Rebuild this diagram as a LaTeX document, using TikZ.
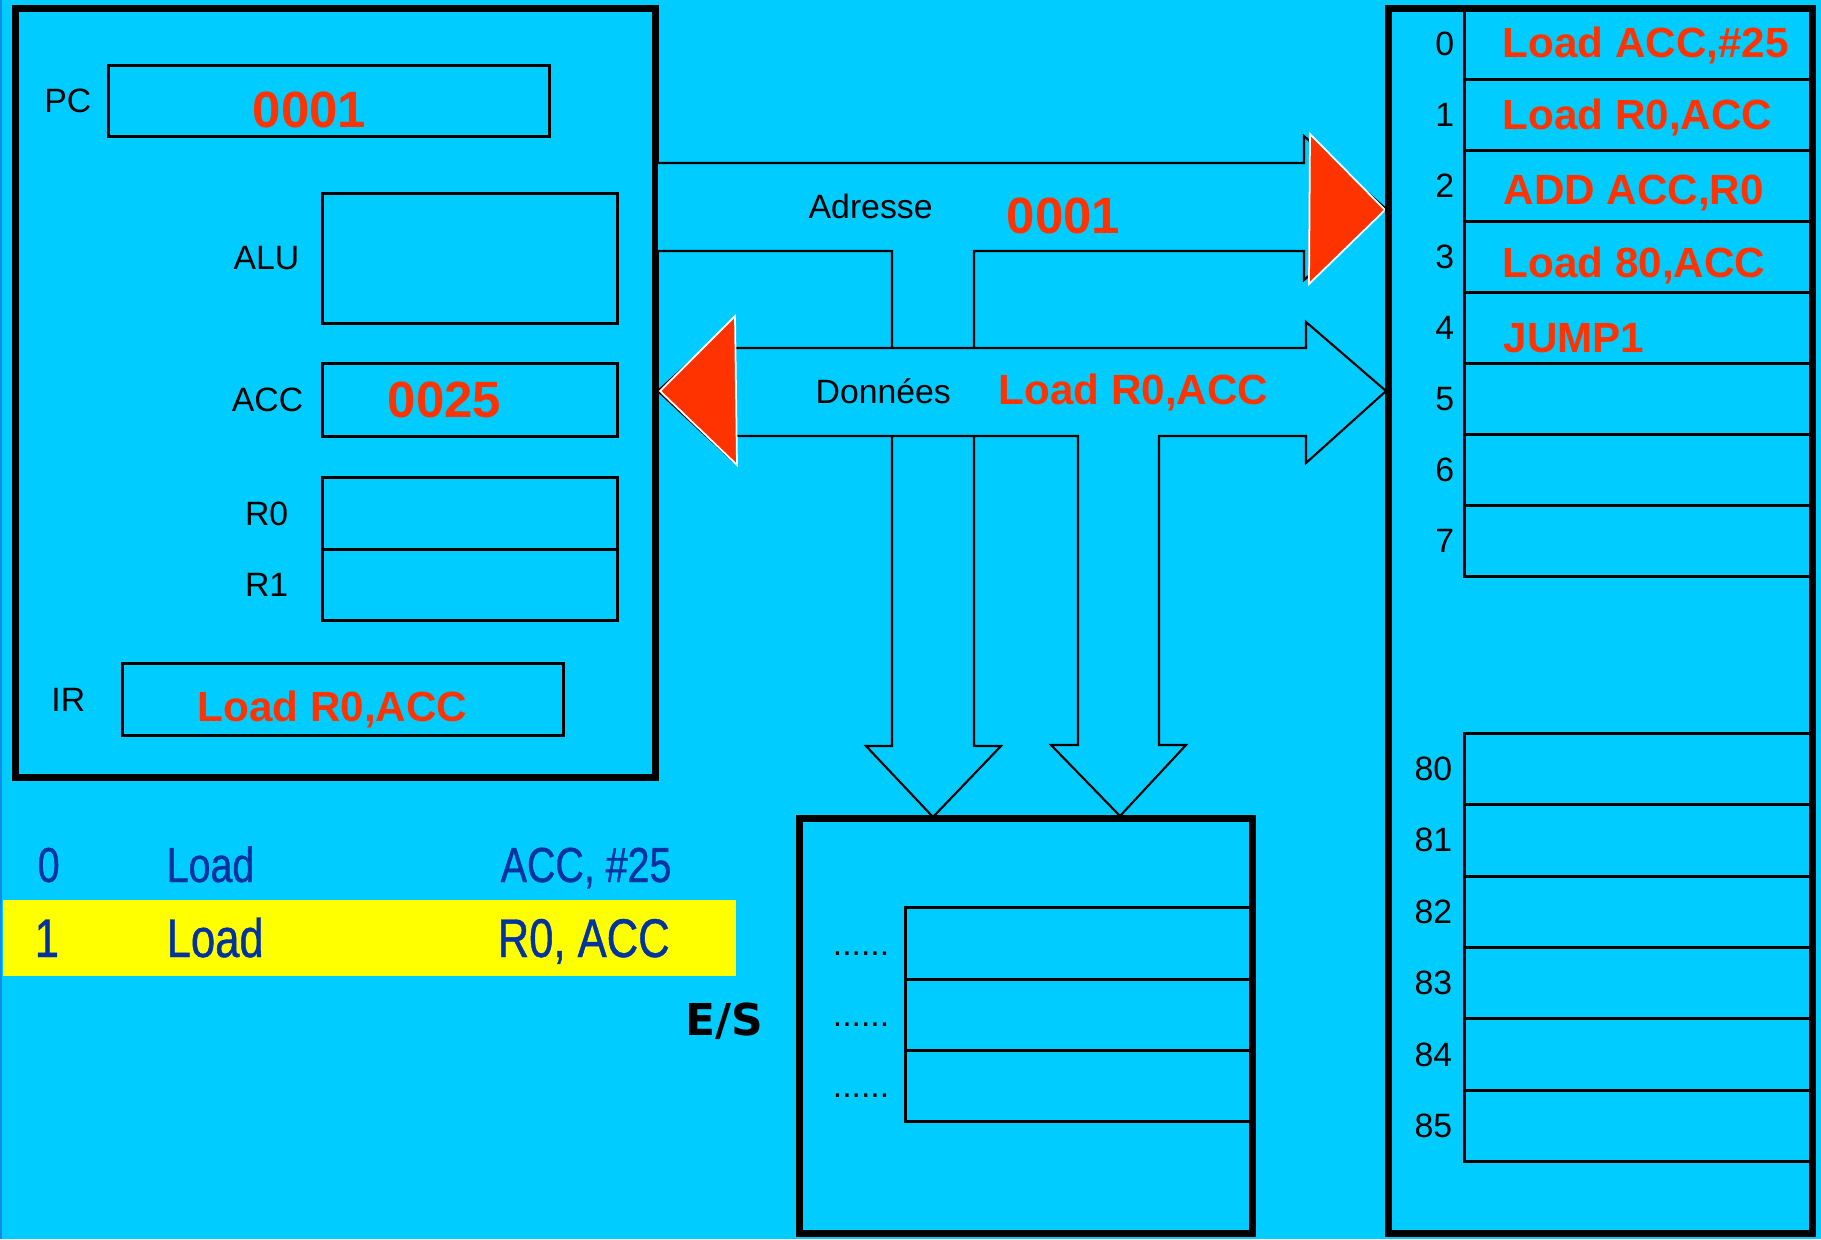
\documentclass[tikz,border=0pt]{standalone}
\usepackage{fontspec}
\setmainfont{Liberation Sans}
\newfontfamily\esfont{DejaVu Sans}
\newfontfamily\narrowfont[FakeStretch=0.8, FakeBold=0.8]{Liberation Sans}
\usepackage{xcolor}
\usetikzlibrary{positioning}

\definecolor{bgcyan}{RGB}{0,204,255}
\definecolor{edgeblue}{RGB}{20,140,230}
\definecolor{valred}{RGB}{255,51,0}
\definecolor{markyellow}{RGB}{255,255,0}
\definecolor{codeblue}{RGB}{0,51,160}

\begin{document}
\begin{tikzpicture}[
  x=0.01cm, y=-0.01cm,
  bigbox/.style={draw, line width=2pt, inner sep=0pt, outer sep=0pt},
  reg/.style={draw, line width=0.85pt, minimum width=2.94cm,
    minimum height=0.71cm, inner sep=0pt, outer sep=0pt},
  cell/.style={draw, line width=0.85pt, minimum width=3.47cm,
    minimum height=0.71cm, inner sep=0pt, outer sep=0pt},
  lbl/.style={font=\fontsize{9.6}{12}\selectfont, inner sep=0pt},
  dots/.style={lbl, text height=7pt, text depth=0pt},
  val/.style={font=\fontsize{14.5}{17}\selectfont\bfseries, text=valred,
    inner sep=0pt, anchor=base west},
  instr/.style={font=\fontsize{12}{14}\selectfont\bfseries, text=valred,
    inner sep=0pt, anchor=base west},
  code/.style={font=\narrowfont\fontsize{14}{17}\selectfont, text=codeblue,
    inner sep=0pt, anchor=base west},
  bus/.style={draw, line width=0.6pt, fill=bgcyan},
  head/.style={fill=valred, draw=white, line width=0.5pt}
]

% Background
\fill[bgcyan] (0,0) rectangle (1821,1239);
\fill[edgeblue] (0,0) rectangle (2,1239);
\useasboundingbox (0,0) rectangle (1821,1239);

% Processor
\node[bigbox, minimum width=6.39cm, minimum height=7.685cm] (cpu) at (335.5,392.75) {};
\node[reg, minimum width=4.40cm, minimum height=0.70cm] (pc) at (329,101) {};
\node[reg, minimum height=1.29cm] (alu) at (470,258.5) {};
\node[reg, minimum height=0.72cm] (acc) at (470,400) {};
\node[reg] (r0) at (470,513.5) {};
\node[reg, below=0pt of r0] (r1) {};
\node[reg, minimum width=4.40cm, minimum height=0.72cm] (ir) at (343,699.5) {};

\node[lbl, left=0.17cm of pc] (pclbl) {PC};
\node[lbl, left=0.23cm of alu] (alulbl) {ALU};
\node[lbl, left=0.19cm of acc] (acclbl) {ACC};
\node[lbl, left=0.34cm of r0] (r0lbl) {R0};
\node[lbl, left=0.34cm of r1] (r1lbl) {R1};
\node[lbl, left=0.37cm of ir] (irlbl) {IR};

\node[val] (pcval) at (252,127.5) {0001};
\node[val] (accval) at (387,417) {0025};
\node[instr] (irval) at (197,721.5) {Load R0,ACC};

% Address bus
\draw[bus] (658,163) -- (1304,163) -- (1304,136) -- (1386,209) -- (1304,280)
  -- (1304,251) -- (974,251) -- (974,746) -- (1001,746) -- (933,817)
  -- (866,746) -- (892,746) -- (892,251) -- (658,251);

% Data bus
\draw[bus] (658,391) -- (733,322) -- (733,348) -- (1306,348) -- (1306,322)
  -- (1386,391) -- (1306,463) -- (1306,436) -- (1159,436) -- (1159,745)
  -- (1186,745) -- (1120,816) -- (1051,745) -- (1078,745) -- (1078,436)
  -- (733,436) -- (733,461) -- cycle;

\filldraw[head] (1310,134) -- (1385,210) -- (1309,284) -- cycle;
\filldraw[head] (735,316) -- (660,391) -- (737,465) -- cycle;

\node[lbl, anchor=base west] (adrlbl) at (808,218) {Adresse};
\node[val] (adrval) at (1006,233) {0001};
\node[lbl, anchor=base west] (datlbl) at (815,403) {Données};
\node[instr] (datval) at (998,404) {Load R0,ACC};

% Memory
\node[cell] (m0) at (1638.5,43.5) {};
\node[cell, below=0pt of m0] (m1) {};
\node[cell, below=0pt of m1] (m2) {};
\node[cell, below=0pt of m2] (m3) {};
\node[cell, below=0pt of m3] (m4) {};
\node[cell, below=0pt of m4] (m5) {};
\node[cell, below=0pt of m5] (m6) {};
\node[cell, below=0pt of m6] (m7) {};

\node[cell, minimum height=0.713cm] (m80) at (1638.5,769) {};
\node[cell, minimum height=0.713cm, below=0pt of m80] (m81) {};
\node[cell, minimum height=0.713cm, below=0pt of m81] (m82) {};
\node[cell, minimum height=0.713cm, below=0pt of m82] (m83) {};
\node[cell, minimum height=0.713cm, below=0pt of m83] (m84) {};
\node[cell, minimum height=0.713cm, below=0pt of m84] (m85) {};

\node[bigbox, minimum width=4.23cm, minimum height=12.24cm] (mem) at (1600.5,621) {};

\node[lbl, left=0.10cm of m0] (a0) {0};
\node[lbl, left=0.10cm of m1] (a1) {1};
\node[lbl, left=0.10cm of m2] (a2) {2};
\node[lbl, left=0.10cm of m3] (a3) {3};
\node[lbl, left=0.10cm of m4] (a4) {4};
\node[lbl, left=0.10cm of m5] (a5) {5};
\node[lbl, left=0.10cm of m6] (a6) {6};
\node[lbl, left=0.10cm of m7] (a7) {7};
\node[lbl, left=0.12cm of m80] (a80) {80};
\node[lbl, left=0.12cm of m81] (a81) {81};
\node[lbl, left=0.12cm of m82] (a82) {82};
\node[lbl, left=0.12cm of m83] (a83) {83};
\node[lbl, left=0.12cm of m84] (a84) {84};
\node[lbl, left=0.12cm of m85] (a85) {85};

\node[instr] (i0) at (1502,57) {Load ACC,\#25};
\node[instr] (i1) at (1502,129.5) {Load R0,ACC};
\node[instr] (i2) at (1503,204.5) {ADD ACC,R0};
\node[instr] (i3) at (1502,277.5) {Load 80,ACC};
\node[instr] (i4) at (1503,352.5) {JUMP1};

% E/S
\node[cell, minimum width=3.46cm] (es0) at (1079,943.5) {};
\node[cell, minimum width=3.46cm, below=0pt of es0] (es1) {};
\node[cell, minimum width=3.46cm, below=0pt of es1] (es2) {};
\node[bigbox, minimum width=4.52cm, minimum height=4.14cm] (es) at (1026,1026) {};

\node[dots, left=0.16cm of es0] (d0) {......};
\node[dots, left=0.16cm of es1] (d1) {......};
\node[dots, left=0.16cm of es2] (d2) {......};
\node[font=\esfont\bfseries\fontsize{12.5}{15}\selectfont, inner sep=0pt,
  text depth=0pt] (eslbl) at (724,1019) {E/S};

% Program listing
\node[fill=markyellow, minimum width=7.33cm, minimum height=0.76cm,
  inner sep=0pt] (mark) at (369.5,938) {};
\node[code] (c0n) at (37,882) {0};
\node[code] (c0op) at (166,882) {Load};
\node[code] (c0arg) at (500,882) {ACC, \#25};
\node[code, font=\narrowfont\fontsize{15.5}{18}\selectfont] (c1n) at (34,957) {1};
\node[code, font=\narrowfont\fontsize{15.5}{18}\selectfont] (c1op) at (166,957) {Load};
\node[code, font=\narrowfont\fontsize{15.5}{18}\selectfont] (c1arg) at (497,957) {R0, ACC};

\end{tikzpicture}
\end{document}
